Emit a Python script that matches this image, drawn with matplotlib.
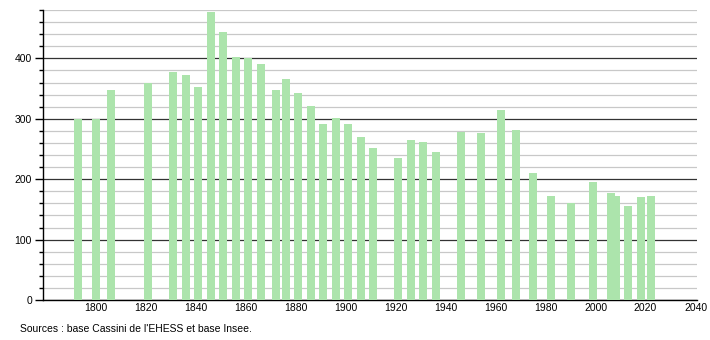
import matplotlib
matplotlib.use("Agg")
import matplotlib.pyplot as plt
from matplotlib.ticker import MultipleLocator

years = [1793, 1800, 1806, 1821, 1831, 1836, 1841, 1846, 1851, 1856, 1861, 1866,
         1872, 1876, 1881, 1886, 1891, 1896, 1901, 1906, 1911, 1921, 1926, 1931,
         1936, 1946, 1954, 1962, 1968, 1975, 1982, 1990, 1999, 2006, 2008, 2013,
         2018, 2022]
population = [300, 300, 347, 360, 377, 372, 352, 476, 444, 403, 400, 391,
              347, 366, 343, 321, 291, 301, 291, 269, 251, 235, 265, 261,
              245, 278, 277, 315, 281, 210, 172, 161, 195, 177, 172, 156,
              170, 172]
x_ticks = [1800, 1820, 1840, 1860, 1880, 1900, 1920, 1940, 1960, 1980, 2000, 2020, 2040]
y_ticks = [0, 100, 200, 300, 400]
source_text = "Sources : base Cassini de l'EHESS et base Insee."

plt.rcParams['font.family'] = ['Liberation Sans', 'DejaVu Sans']

fig = plt.figure(figsize=(7.1, 3.4), dpi=100)
ax = fig.add_axes([43/710, 40/340, (697-43)/710, (300-10)/340])

ax.bar(years, population, width=3.2, color='#ace4ac', zorder=3, linewidth=0)

ax.set_xlim(1779, 2040.6)
ax.set_ylim(0, 480)

ax.set_xticks(x_ticks)
ax.set_xticklabels([str(t) for t in x_ticks])
ax.yaxis.set_major_locator(MultipleLocator(100))
ax.yaxis.set_minor_locator(MultipleLocator(20))
ax.set_yticks(y_ticks)

ax.grid(True, which='minor', axis='y', color='#c8c8c8', linewidth=0.9, zorder=1)
ax.grid(True, which='major', axis='y', color='#333333', linewidth=0.9, zorder=2)

for s in ['top', 'right']:
    ax.spines[s].set_visible(False)
ax.spines['left'].set_linewidth(1.0)
ax.spines['bottom'].set_linewidth(1.0)

ax.tick_params(axis='x', length=0, labelsize=7.5, pad=2)
ax.tick_params(axis='y', which='major', length=6, width=1, labelsize=7.5, pad=2)
ax.tick_params(axis='y', which='minor', length=3, width=1)

fig.text(20/710, 1 - 329/340, source_text, fontsize=7.5, va='center', ha='left')

fig.savefig('out.png', dpi=100)
